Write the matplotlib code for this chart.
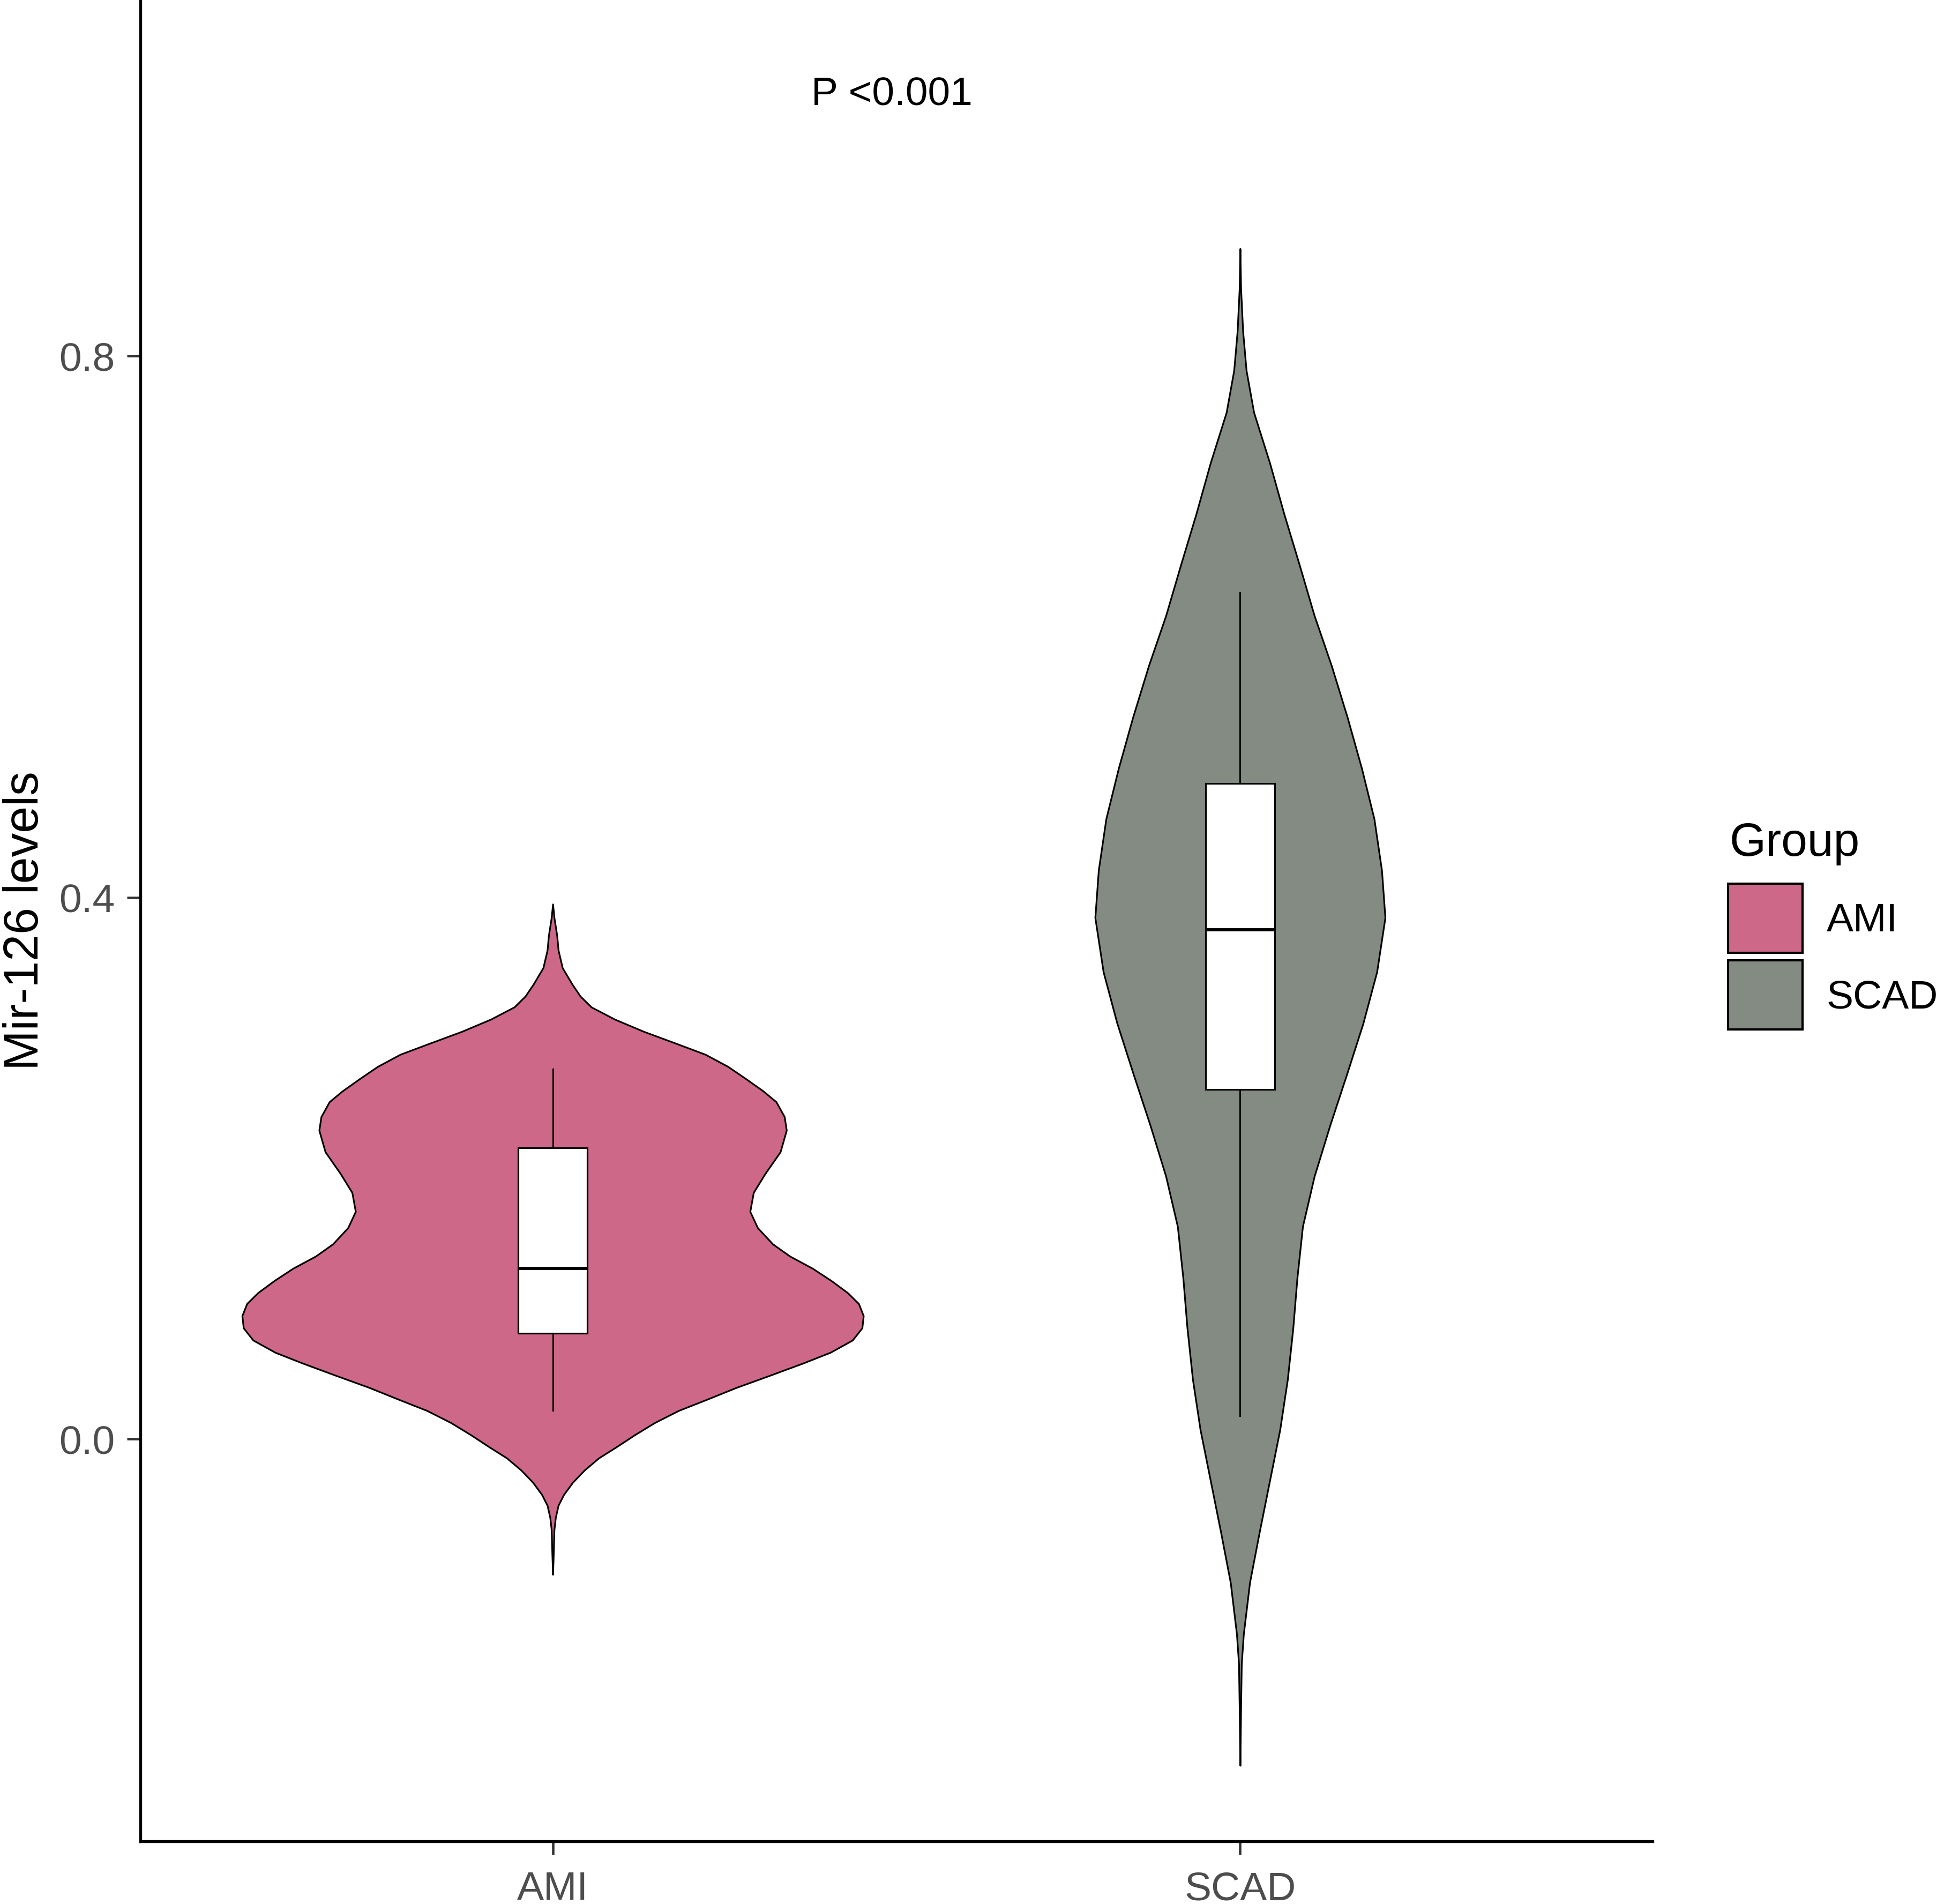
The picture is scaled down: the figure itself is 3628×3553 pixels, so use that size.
import matplotlib
matplotlib.use("Agg")
import matplotlib.pyplot as plt
from matplotlib.patches import Patch

plt.rcParams['font.family'] = ['Liberation Sans', 'DejaVu Sans']

# ---------------- data ----------------
groups = ["AMI", "SCAD"]
colors = ["#CD6889", "#838B83"]

# violin outline profiles (value, half-width in category units)
ami_y = [0.395, 0.385, 0.372, 0.361, 0.348, 0.336, 0.327, 0.319, 0.310, 0.301, 0.292,
         0.284, 0.275, 0.266, 0.257, 0.249, 0.238, 0.228, 0.212, 0.196, 0.182, 0.168,
         0.156, 0.144, 0.135, 0.126, 0.117, 0.108, 0.100, 0.091, 0.082, 0.073, 0.064,
         0.056, 0.047, 0.038, 0.029, 0.021, 0.012, 0.003, -0.006, -0.014, -0.023,
         -0.032, -0.041, -0.049, -0.058, -0.067, -0.085, -0.100]
ami_hw = [0.000, 0.002, 0.006, 0.008, 0.014, 0.028, 0.040, 0.056, 0.090, 0.132, 0.180,
          0.222, 0.255, 0.281, 0.306, 0.325, 0.337, 0.340, 0.331, 0.309, 0.292, 0.287,
          0.298, 0.320, 0.345, 0.378, 0.405, 0.429, 0.445, 0.452, 0.450, 0.436, 0.404,
          0.364, 0.316, 0.267, 0.223, 0.183, 0.148, 0.119, 0.092, 0.067, 0.046,
          0.029, 0.016, 0.008, 0.004, 0.002, 0.001, 0.000]

scad_y = [0.879, 0.850, 0.818, 0.789, 0.758, 0.721, 0.683, 0.646, 0.608, 0.571, 0.533,
          0.495, 0.458, 0.420, 0.385, 0.345, 0.307, 0.269, 0.232, 0.194, 0.157, 0.119,
          0.082, 0.044, 0.007, -0.031, -0.069, -0.106, -0.144, -0.166, -0.200, -0.241]
scad_hw = [0.000, 0.001, 0.004, 0.009, 0.020, 0.043, 0.064, 0.086, 0.108, 0.133, 0.156,
           0.177, 0.195, 0.206, 0.211, 0.199, 0.179, 0.155, 0.131, 0.108, 0.091, 0.083,
           0.077, 0.069, 0.058, 0.043, 0.028, 0.014, 0.005, 0.002, 0.001, 0.000]

# box-plot statistics
box_med = [0.126, 0.376]
box_q1 = [0.078, 0.258]
box_q3 = [0.215, 0.484]
box_lo = [0.021, 0.017]
box_hi = [0.273, 0.625]

p_text = "P <0.001"
legend_title = "Group"
y_label = "Mir-126 levels"

# ---------------- figure ----------------
W, H = 3628, 3554
fig = plt.figure(figsize=(W / 300, H / 300), dpi=300)
ax = fig.add_axes([262 / W, 117 / H, (3084 - 262) / W, 1 - 117 / H])

profiles = [(ami_y, ami_hw), (scad_y, scad_hw)]
for i, ((ys, hws), col) in enumerate(zip(profiles, colors)):
    pos = i + 1
    left = [pos - h for h in hws]
    right = [pos + h for h in hws]
    ax.fill_betweenx(ys, left, right, facecolor=col, edgecolor="black",
                     linewidth=0.75, zorder=2)

stats = []
for i, g in enumerate(groups):
    stats.append(dict(med=box_med[i], q1=box_q1[i], q3=box_q3[i],
                      whislo=box_lo[i], whishi=box_hi[i], fliers=[], label=g))
ax.bxp(stats, positions=[1, 2], widths=0.1, patch_artist=True,
       showcaps=False, showfliers=False,
       boxprops=dict(facecolor="white", edgecolor="black", linewidth=0.75),
       whiskerprops=dict(color="black", linewidth=0.75),
       medianprops=dict(color="black", linewidth=1.4), zorder=3)

ax.text(1.493, 0.993, p_text, ha="center", va="center", fontsize=18, color="black")

ax.set_xlim(0.4, 2.6)
ax.set_ylim(-0.297, 1.063)
ax.set_xticks([1, 2])
ax.set_xticklabels(groups)
ax.set_yticks([0.0, 0.4, 0.8])
ax.set_yticklabels(["0.0", "0.4", "0.8"])
ax.tick_params(axis="both", length=6, width=1.1, color="#333333",
               labelcolor="#4D4D4D", labelsize=18)
ax.tick_params(axis="y", pad=5.5)
ax.tick_params(axis="x", pad=7)
for s in ["top", "right"]:
    ax.spines[s].set_visible(False)
for s in ["left", "bottom"]:
    ax.spines[s].set_linewidth(1.3)
    ax.spines[s].set_color("black")
ax.set_facecolor("white")

fig.text(48 / W, (117 + (H - 117) / 2) / H, y_label, rotation=90,
         ha="center", va="center", fontsize=21.5, color="black")

# legend: title as text, keys as legend entries
fig.text(3228 / W, 1 - 1597 / H, legend_title, ha="left", va="baseline",
         fontsize=21, color="black")
handles = [Patch(facecolor=c, edgecolor="black", linewidth=1.0) for c in colors]
leg = fig.legend(handles, groups, loc="upper left",
                 bbox_to_anchor=(3225 / W, 1 - 1650 / H), frameon=False,
                 fontsize=18, handlelength=1.85,
                 handleheight=2.27, labelspacing=0.19, handletextpad=0.6,
                 borderpad=0, borderaxespad=0)

fig.savefig("out.png", dpi=300, facecolor="white")
